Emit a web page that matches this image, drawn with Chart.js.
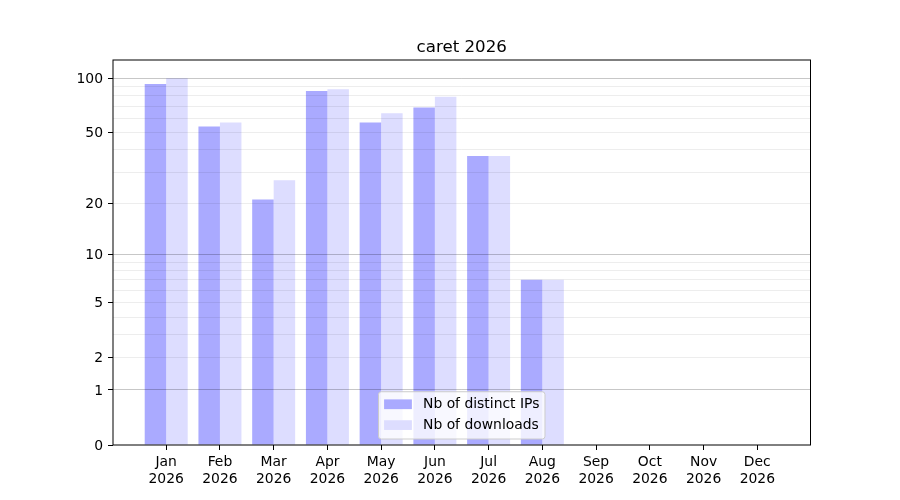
<!DOCTYPE html>
<html>
<head>
<meta charset="utf-8">
<title>caret 2026</title>
<script src="https://cdn.jsdelivr.net/npm/chart.js@4.4.0/dist/chart.umd.min.js"></script>
<style>
  html, body { margin: 0; padding: 0; background: #fff; }
  #chart { display: block; }
</style>
</head>
<body>
<canvas id="chart" width="900" height="500"></canvas>
<script>
// Data
const months = ['Jan', 'Feb', 'Mar', 'Apr', 'May', 'Jun', 'Jul', 'Aug', 'Sep', 'Oct', 'Nov', 'Dec'];
const year = '2026';
const distinctIPs = [93, 54, 21, 85, 57, 69, 37, 7, 0, 0, 0, 0];
const downloads = [100, 57, 27, 87, 64, 79, 37, 7, 0, 0, 0, 0];
const yTickLabels = [0, 1, 2, 5, 10, 20, 50, 100];
const yMajorGrid = [1, 10, 100];
const yMinorGrid = [2, 3, 4, 5, 6, 7, 8, 9, 20, 30, 40, 50, 60, 70, 80, 90];

const FONT = '"DejaVu Sans", "Liberation Sans", sans-serif';
const FS = 13.9;

Chart.defaults.font.family = FONT;
Chart.defaults.font.size = FS;
Chart.defaults.color = '#000';

// y axis on a log10(1 + v) scale
class Log1pScale extends Chart.LinearScale {
    static id = 'log1p';
    static defaults = Chart.LinearScale.defaults;

    buildTicks() {
        const values = [0].concat(yMajorGrid, yMinorGrid).sort((a, b) => a - b);
        return values.map(v => ({ value: v }));
    }

    configure() {
        super.configure();
        this._tStart = Math.log10(1 + this.min);
        this._tRange = Math.log10(1 + this.max) - this._tStart;
    }

    getPixelForValue(value) {
        if (value === null || value === undefined || isNaN(value)) return NaN;
        return this.getPixelForDecimal((Math.log10(1 + value) - this._tStart) / this._tRange);
    }

    getValueForPixel(pixel) {
        return Math.pow(10, this._tStart + this.getDecimalForPixel(pixel) * this._tRange) - 1;
    }
}
Chart.register(Log1pScale);

// axis range like matplotlib's 5% margin, in transformed space
const dataMax = Math.max(...distinctIPs, ...downloads);
const yTop = Math.pow(10, 1.05 * Math.log10(1 + dataMax)) - 1;

const frameAndTitle = {
    id: 'frameAndTitle',
    afterDraw(chart) {
        const { ctx, chartArea: a } = chart;
        ctx.save();
        ctx.strokeStyle = '#000';
        ctx.lineWidth = 1;
        ctx.strokeRect(a.left, a.top, a.right - a.left, a.bottom - a.top);

        ctx.fillStyle = '#000';
        ctx.font = `16.67px ${FONT}`;
        ctx.textAlign = 'center';
        ctx.textBaseline = 'alphabetic';
        ctx.fillText('caret 2026', (a.left + a.right) / 2, a.top - 8);

        // legend, lower center inside the axes
        ctx.font = `${FS}px ${FONT}`;
        const items = chart.data.datasets.map(ds => ({ text: ds.label, color: ds.backgroundColor }));
        const textW = Math.max(...items.map(it => ctx.measureText(it.text).width));
        const pad = 0.4 * FS, handleW = 2 * FS, handleH = 0.7 * FS, gap = 0.8 * FS;
        const w = pad + handleW + gap + textW + pad;
        const h = 3.4 * FS;
        const x = (a.left + a.right) / 2 - w / 2;
        const y = a.bottom - 6 - h;
        const r = 0.2 * FS;
        ctx.beginPath();
        ctx.moveTo(x + r, y);
        ctx.arcTo(x + w, y, x + w, y + h, r);
        ctx.arcTo(x + w, y + h, x, y + h, r);
        ctx.arcTo(x, y + h, x, y, r);
        ctx.arcTo(x, y, x + w, y, r);
        ctx.closePath();
        ctx.fillStyle = 'rgba(255,255,255,0.8)';
        ctx.fill();
        ctx.strokeStyle = '#cccccc';
        ctx.stroke();

        ctx.textAlign = 'left';
        ctx.textBaseline = 'middle';
        items.forEach((it, i) => {
            const cy = y + 0.9 * FS + i * 1.5 * FS;
            ctx.fillStyle = it.color;
            ctx.fillRect(x + pad, cy - handleH / 2, handleW, handleH);
            ctx.fillStyle = '#000';
            ctx.fillText(it.text, x + pad + handleW + gap, cy);
        });
        ctx.restore();
    }
};

new Chart(document.getElementById('chart'), {
    type: 'bar',
    data: {
        datasets: [{
            label: 'Nb of distinct IPs',
            data: distinctIPs.map((v, i) => ({ x: i, y: v })),
            backgroundColor: '#aaaaff',
            borderWidth: 0,
            categoryPercentage: 0.8,
            barPercentage: 1.0
        }, {
            label: 'Nb of downloads',
            data: downloads.map((v, i) => ({ x: i, y: v })),
            backgroundColor: '#ddddff',
            borderWidth: 0,
            categoryPercentage: 0.8,
            barPercentage: 1.0
        }]
    },
    options: {
        responsive: false,
        animation: false,
        layout: { padding: { top: 60, right: 89.5, left: 0, bottom: 0 } },
        plugins: {
            legend: { display: false },
            title: { display: false },
            tooltip: { enabled: false }
        },
        scales: {
            x: {
                type: 'linear',
                min: -0.99,
                max: 11.99,
                offset: false,
                afterBuildTicks: (scale) => {
                    scale.ticks = months.map((m, i) => ({ value: i }));
                },
                afterFit: (scale) => { scale.height = 55; },
                grid: {
                    offset: false,
                    drawOnChartArea: false,
                    drawTicks: true,
                    tickLength: 5,
                    tickColor: '#000'
                },
                border: { display: false },
                ticks: {
                    autoSkip: false,
                    maxRotation: 0,
                    padding: 4,
                    font: { size: FS, lineHeight: 1.2 },
                    callback: (value) => [months[Math.round(value)], year]
                }
            },
            y: {
                type: 'log1p',
                min: 0,
                max: yTop,
                afterFit: (scale) => { scale.width = 113; },
                grid: {
                    z: 1,
                    lineWidth: 1,
                    tickLength: 5,
                    color: (ctx) => {
                        const v = ctx.tick ? ctx.tick.value : 0;
                        if (yMajorGrid.includes(v)) return 'rgba(0,0,0,0.22)';
                        if (yMinorGrid.includes(v)) return 'rgba(0,0,0,0.07)';
                        return 'rgba(0,0,0,0)';
                    },
                    tickColor: (ctx) => {
                        const v = ctx.tick ? ctx.tick.value : -1;
                        return yTickLabels.includes(v) ? '#000' : 'rgba(0,0,0,0)';
                    }
                },
                border: { display: false },
                ticks: {
                    autoSkip: false,
                    padding: 5,
                    labelOffset: 1,
                    font: { size: FS },
                    callback: (value) => yTickLabels.includes(value) ? String(value) : ''
                }
            }
        }
    },
    plugins: [frameAndTitle]
});
</script>
</body>
</html>
